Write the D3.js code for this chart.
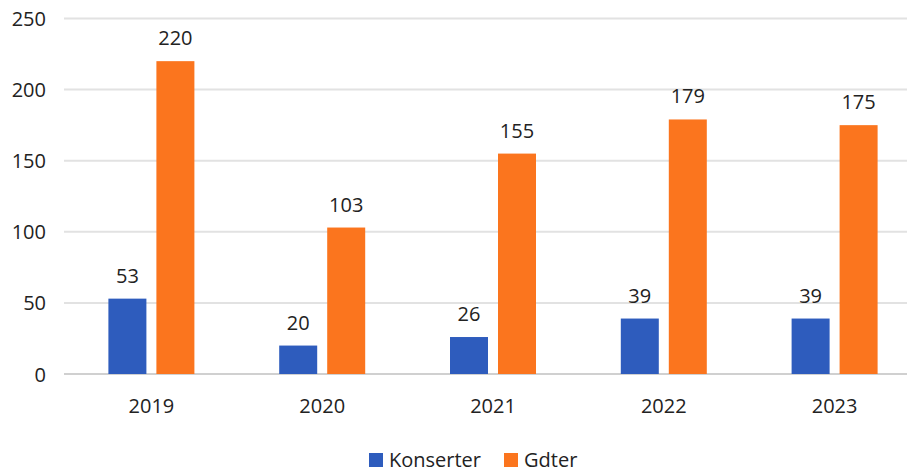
<!DOCTYPE html>
<html><head><meta charset="utf-8">
<script src="https://cdn.jsdelivr.net/npm/d3@7"></script>
<style>body{margin:0;background:#fff}svg{display:block}</style>
</head><body>
<svg id="c" width="907" height="473"></svg>
<script>
const categories = ["2019","2020","2021","2022","2023"];
const seriesNames = ["Konserter","Gdter"];
const konserter = [53,20,26,39,39];
const gdter = [220,103,155,179,175];
const yTicks = [0,50,100,150,200,250];
const colors = ["#2E5CBD","#FB751E"];

const svg = d3.select("#c");
const font = "'Open Sans', 'Noto Sans', sans-serif";
const x = d3.scaleBand().domain(categories).range([66,920]).paddingInner(0).paddingOuter(0);
const y = d3.scaleLinear().domain([0,250]).range([374,18.5]);
const barW = 38, gap = 10;

// gridlines
svg.append("g").selectAll("line").data(yTicks).join("line")
  .attr("x1",64).attr("x2",907)
  .attr("y1",d=>y(d)).attr("y2",d=>y(d))
  .attr("stroke",d=>d===0?"#d0d0d0":"#e2e2e2").attr("stroke-width",2);

// y axis
const ya = svg.append("g").attr("transform","translate(46,0)")
  .call(d3.axisLeft(y).tickValues(yTicks).tickSize(0).tickPadding(0));
ya.select(".domain").remove();
ya.selectAll("text").attr("font-family",font).attr("font-size",20).attr("fill","#222").attr("dy","0.35em");

// x axis
const xa = svg.append("g").attr("transform","translate(0,374)")
  .call(d3.axisBottom(x).tickSize(0).tickPadding(0));
xa.select(".domain").remove();
xa.selectAll("text").attr("font-family",font).attr("font-size",20).attr("fill","#222").attr("dy","1.95em");

const series = [konserter, gdter];
series.forEach((vals,si)=>{
  const off = si===0 ? -(barW+gap/2) : gap/2;
  const g = svg.append("g");
  g.selectAll("rect").data(vals).join("rect")
    .attr("x",(d,i)=>x(categories[i])+x.bandwidth()/2+off)
    .attr("width",barW)
    .attr("y",d=>y(d)).attr("height",d=>y(0)-y(d))
    .attr("fill",colors[si]);
  g.selectAll("text").data(vals).join("text")
    .attr("x",(d,i)=>x(categories[i])+x.bandwidth()/2+off+barW/2)
    .attr("y",d=>y(d)-16)
    .attr("text-anchor","middle")
    .attr("font-family",font).attr("font-size",20).attr("fill","#222")
    .text(d=>d);
});

// legend
const leg = svg.append("g");
const legX = [369, 504];
seriesNames.forEach((n,i)=>{
  leg.append("rect").attr("x",legX[i]).attr("y",453).attr("width",14).attr("height",14).attr("fill",colors[i]);
  leg.append("text").attr("x",legX[i]+20).attr("y",460).attr("dy","0.35em")
    .attr("font-family",font).attr("font-size",20).attr("fill","#222").text(n);
});
</script>
</body></html>
